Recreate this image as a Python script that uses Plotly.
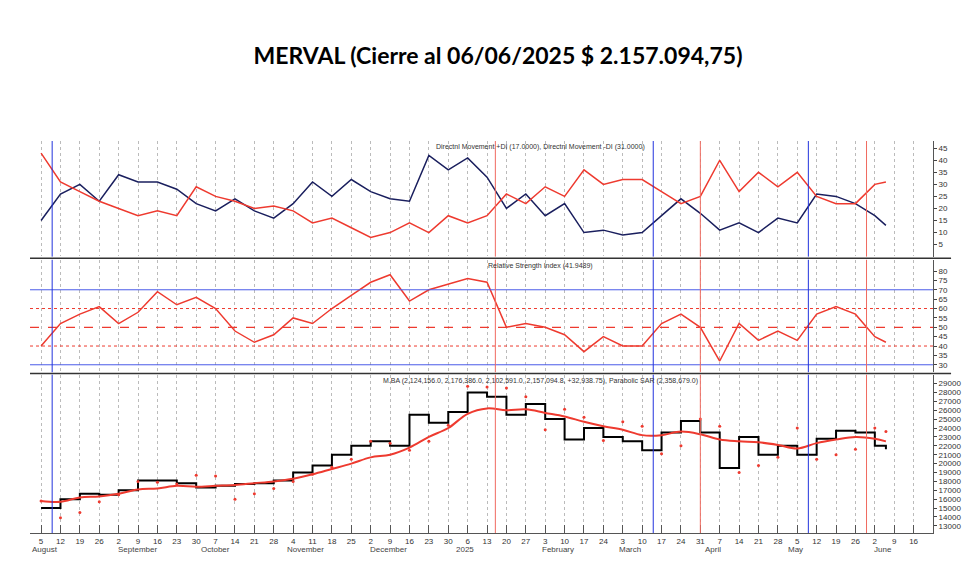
import plotly.graph_objects as go
import pandas as pd

# semanas (lunes) + ultimo cierre
fechas = list(pd.date_range("2024-08-05", "2025-06-02", freq="7D")) + [pd.Timestamp("2025-06-06")]

di_pos = [15, 26, 30, 23, 34, 31, 31, 28, 22, 19, 24, 19, 16, 22, 31, 25, 32, 27, 24, 23, 42, 36, 41,
          33, 20, 26, 17, 22, 10, 11, 9, 10, 17, 24, 18, 11, 14, 10, 16, 14, 26, 25, 22, 17, 13]
di_neg = [43, 31, 27, 23, 20, 17, 19, 17, 29, 25, 23, 20, 21, 19, 14, 16, 12, 8, 10, 14, 10, 17, 14,
          17, 26, 22, 29, 25, 36, 30, 32, 32, 27, 22, 25, 40, 27, 35, 29, 35, 25, 22, 22, 30, 31]
rsi = [40, 52, 57, 61, 52, 58, 69, 62, 66, 60, 48, 42, 46, 55, 52, 60, 67, 74, 78, 64, 70, 73, 76,
       74, 50, 52, 50, 46, 37, 45, 40, 40, 52, 57, 50, 32, 52, 43, 48, 43, 57, 61, 57, 45, 42]
cierre = [15000, 16000, 16600, 16500, 17000, 18100, 18100, 17800, 17300, 17500, 17700, 17800, 18100,
          19000, 19800, 21000, 22000, 22500, 22000, 25500, 24600, 25800, 28000,
          27500, 25500, 26700, 25000, 22700, 24000, 23000, 22500, 21500, 23500, 24800, 23500,
          19500, 23000, 21000, 22000, 21000, 22800, 23700, 23500, 22000, 21600]
media = [15800, 15700, 16200, 16300, 16600, 17100, 17200, 17500, 17400, 17500, 17600, 17800, 18000,
         18300, 18800, 19400, 20000, 20700, 21000, 21800, 23000, 24000, 25600,
         26200, 26000, 26100, 25700, 25300, 24700, 24200, 23800, 23200, 23200, 23600, 23300,
         22700, 22500, 22400, 22100, 21700, 22300, 22700, 23000, 22800, 22500]
sar = [15800, 13900, 14500, 15700, 16500, 18000, 17900, 17700, 18700, 18600, 16000, 16600, 17200,
       18000, 18800, 19600, 20500, 22500, 22300, 21500, 22500, 24300, 28700,
       28600, 28500, 27500, 23800, 26100, 25200, 22600, 24700, 24200, 21100, 22000, 25000,
       24200, 19000, 19800, 20700, 24000, 20500, 21000, 21600, 24000, 23600]

lineas_azules = ["2024-08-09", "2025-03-14", "2025-05-09"]
lineas_rojas = ["2025-01-16", "2025-03-31", "2025-05-30"]
meses = [("2024-08-01", "August"), ("2024-09-01", "September"), ("2024-10-01", "October"),
         ("2024-11-01", "November"), ("2024-12-01", "December"), ("2025-01-01", "2025"),
         ("2025-02-01", "February"), ("2025-03-01", "March"), ("2025-04-01", "April"),
         ("2025-05-01", "May"), ("2025-06-01", "June")]

ticks = list(pd.date_range("2024-08-05", "2025-06-16", freq="7D"))
navy = "#1a1f5e"
rojo = "#ee3a2f"

fig = go.Figure()
fig.add_trace(go.Scatter(x=fechas, y=di_pos, mode="lines", line=dict(color=navy, width=1.5), xaxis="x", yaxis="y"))
fig.add_trace(go.Scatter(x=fechas, y=di_neg, mode="lines", line=dict(color=rojo, width=1.5), xaxis="x", yaxis="y"))
fig.add_trace(go.Scatter(x=fechas, y=rsi, mode="lines", line=dict(color=rojo, width=1.5), xaxis="x2", yaxis="y2"))
fig.add_trace(go.Scatter(x=fechas, y=cierre, mode="lines", line=dict(color="black", width=2, shape="hv"), xaxis="x3", yaxis="y3"))
fig.add_trace(go.Scatter(x=fechas, y=media, mode="lines", line=dict(color=rojo, width=2, shape="spline"), xaxis="x3", yaxis="y3"))
fig.add_trace(go.Scatter(x=fechas, y=sar, mode="markers", marker=dict(color=rojo, size=3), xaxis="x3", yaxis="y3"))

rango = ["2024-08-01", "2025-06-23"]
grid = dict(showgrid=True, gridcolor="#bbbbbb", griddash="dot", gridwidth=1, tickvals=ticks, range=rango)
fig.update_layout(
    width=980, height=571, showlegend=False,
    paper_bgcolor="white", plot_bgcolor="white",
    margin=dict(l=22, r=55, t=133, b=46),
    font=dict(family="Liberation Sans, Arial", size=8, color="#333"),
    title=dict(text="<b>MERVAL (Cierre al 06/06/2025 $ 2.157.094,75)</b>", x=0.5, y=0.93,
               font=dict(size=23, family="Lato, Liberation Sans", color="black")),
    xaxis=dict(domain=[0, 1], anchor="y", showticklabels=False, **grid),
    xaxis2=dict(domain=[0, 1], anchor="y2", showticklabels=False, matches="x", **grid),
    xaxis3=dict(domain=[0, 1], anchor="y3", matches="x", ticktext=[str(t.day) for t in ticks],
                ticks="inside", ticklen=8, tickcolor="#555", showline=True, linecolor="#555", **grid),
    yaxis=dict(domain=[0.705, 1], side="right", range=[0, 48], tickvals=list(range(5, 50, 5)),
               showgrid=False, ticks="outside", ticklen=3, showline=True, linecolor="#555"),
    yaxis2=dict(domain=[0.41, 0.697], side="right", range=[26, 86], tickvals=list(range(30, 85, 5)),
                showgrid=False, ticks="outside", ticklen=3, showline=True, linecolor="#555"),
    yaxis3=dict(domain=[0, 0.404], side="right", range=[12200, 30000], tickvals=list(range(13000, 30000, 1000)),
                tickformat="d", showgrid=False, ticks="outside", ticklen=3, showline=True, linecolor="#555"),
)

# separadores de paneles
for yv in [0.701, 0.407]:
    fig.add_shape(type="line", xref="paper", yref="paper", x0=0, x1=1.02, y0=yv, y1=yv,
                  line=dict(color="#333", width=1.5))
# niveles RSI
for val, col, dash in [(70, "#4a5be8", "solid"), (30, "#4a5be8", "solid"), (60, rojo, "dot"),
                       (40, rojo, "dot"), (50, rojo, "dash")]:
    fig.add_shape(type="line", xref="x2 domain", yref="y2", x0=0, x1=1, y0=val, y1=val,
                  line=dict(color=col, width=1.3 if dash == "dash" else 1, dash=dash))
# lineas verticales
for ax in ["y", "y2", "y3"]:
    for d in lineas_azules:
        fig.add_shape(type="line", xref="x", yref=ax + " domain", x0=d, x1=d, y0=0, y1=1,
                      line=dict(color="#2233dd", width=1))
    for d in lineas_rojas:
        fig.add_shape(type="line", xref="x", yref=ax + " domain", x0=d, x1=d, y0=0, y1=1,
                      line=dict(color="#f06a60", width=1))

for d, nombre in meses:
    fig.add_annotation(x=d, y=-0.058, xref="x3", yref="paper", text=nombre, showarrow=False,
                       xanchor="left", font=dict(size=8, color="#444"))

fig.add_annotation(x=0.565, y=1.0, xref="paper", yref="paper", yanchor="top", showarrow=False,
                   text="Directnl Movement +DI (17.0000), Directnl Movement -DI (31.0000)", font=dict(size=7))
fig.add_annotation(x=0.565, y=0.697, xref="paper", yref="paper", yanchor="top", showarrow=False,
                   text="Relative Strength Index (41.9489)", font=dict(size=7))
fig.add_annotation(x=0.565, y=0.404, xref="paper", yref="paper", yanchor="top", showarrow=False,
                   text="M.BA (2,124,156.0, 2,176,386.0, 2,102,591.0, 2,157,094.8, +32,938.75), Parabolic SAR (2,358,679.0)",
                   font=dict(size=7))

fig.write_html("out.html")
